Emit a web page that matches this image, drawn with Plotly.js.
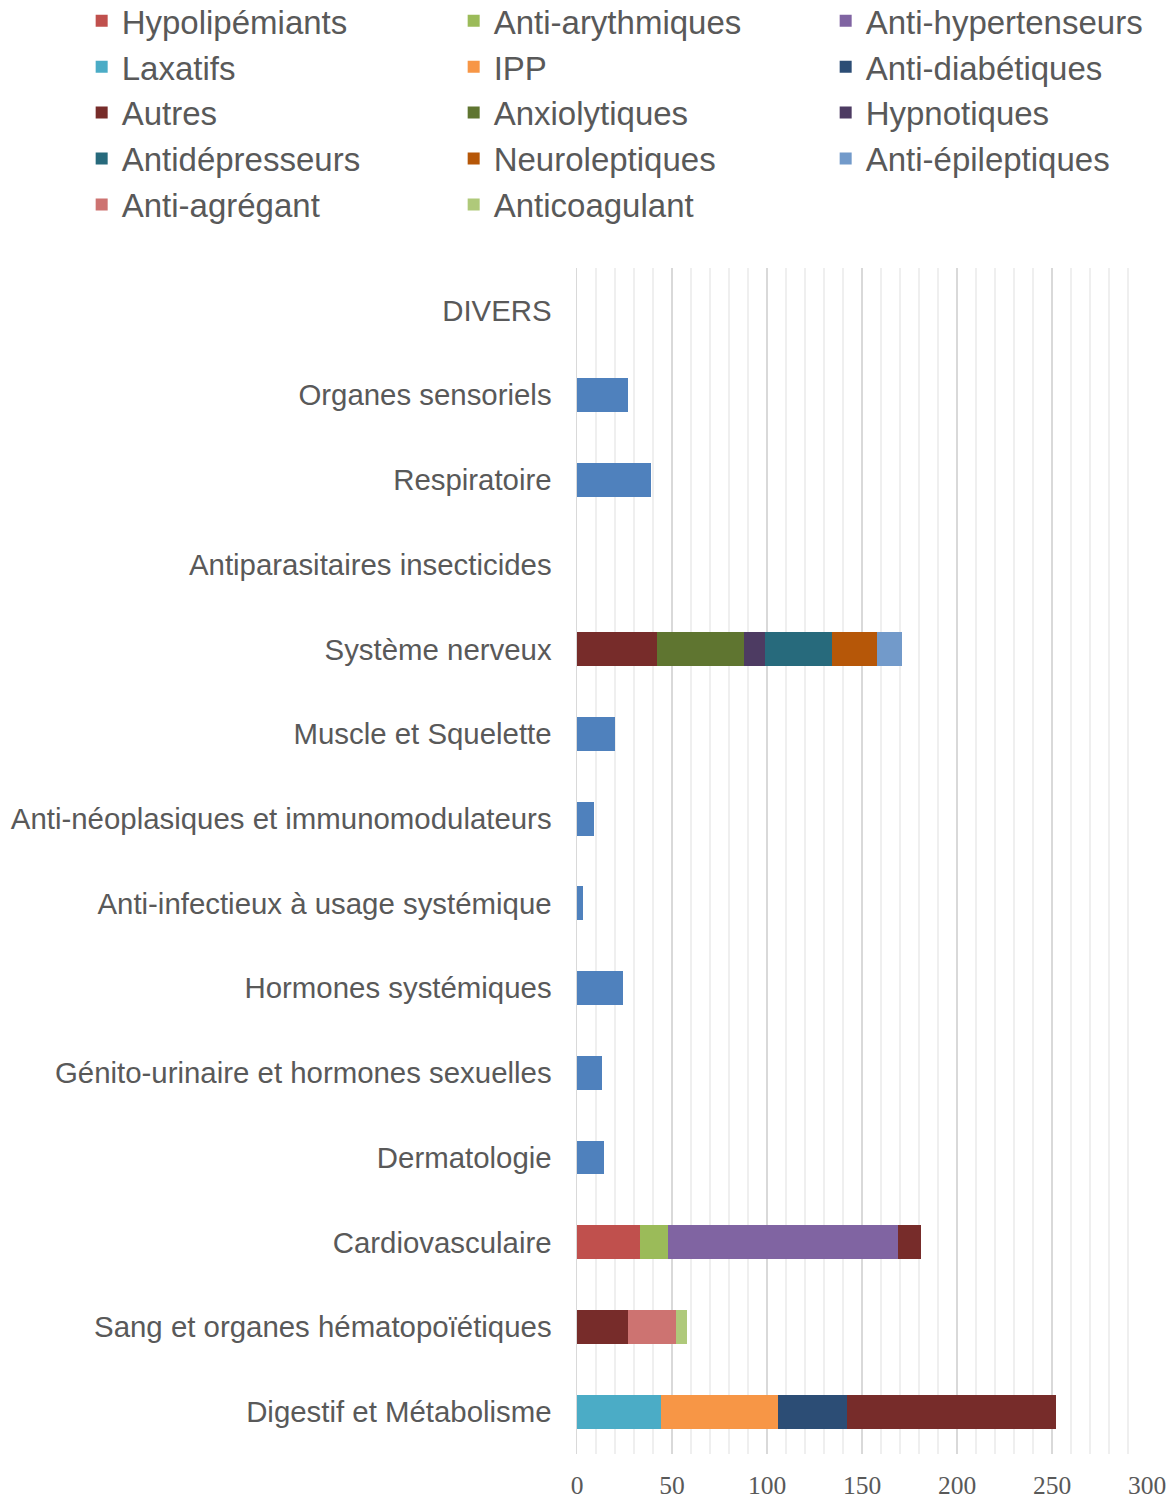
<!DOCTYPE html>
<html>
<head>
<meta charset="utf-8">
<script src="https://cdn.plot.ly/plotly-3.0.1.min.js"></script>
<style>html,body{margin:0;padding:0;background:#fff;}#chart{width:1173px;height:1508px;}</style>
</head>
<body>
<div id="chart"></div>
<script>
// Categories, bottom to top
const categories = [
  "Digestif et Métabolisme",
  "Sang et organes hématopoïétiques",
  "Cardiovasculaire",
  "Dermatologie",
  "Génito-urinaire et hormones sexuelles",
  "Hormones systémiques",
  "Anti-infectieux à usage systémique",
  "Anti-néoplasiques et immunomodulateurs",
  "Muscle et Squelette",
  "Système nerveux",
  "Antiparasitaires insecticides",
  "Respiratoire",
  "Organes sensoriels",
  "DIVERS"
];

// Series values, aligned with categories (null = absent)
const total            = [null, null, null, 14, 13, 24, 3, 9, 20, null, 0, 39, 27, 0];
const laxatifs         = [44, null, null, null, null, null, null, null, null, null, null, null, null, null];
const ipp              = [62, null, null, null, null, null, null, null, null, null, null, null, null, null];
const antiDiabetiques  = [36, null, null, null, null, null, null, null, null, null, null, null, null, null];
const hypolipemiants   = [null, null, 33, null, null, null, null, null, null, null, null, null, null, null];
const antiArythmiques  = [null, null, 15, null, null, null, null, null, null, null, null, null, null, null];
const antiHypertenseurs= [null, null, 121, null, null, null, null, null, null, null, null, null, null, null];
const antiAgregant     = [null, 25, null, null, null, null, null, null, null, null, null, null, null, null];
const anticoagulant    = [null, 6, null, null, null, null, null, null, null, null, null, null, null, null];
const anxiolytiques    = [null, null, null, null, null, null, null, null, null, 46, null, null, null, null];
const hypnotiques      = [null, null, null, null, null, null, null, null, null, 11, null, null, null, null];
const antidepresseurs  = [null, null, null, null, null, null, null, null, null, 35, null, null, null, null];
const neuroleptiques   = [null, null, null, null, null, null, null, null, null, 24, null, null, null, null];
const antiEpileptiques = [null, null, null, null, null, null, null, null, null, 13, null, null, null, null];
const autres           = [110, 27, 12, null, null, null, null, null, null, 42, null, null, null, null];
// categories where "Autres" is drawn first in the stack
const autresFirst = ["Sang et organes hématopoïétiques", "Système nerveux"];

const tickVals = [0, 50, 100, 150, 200, 250, 300];

const autresHead = autres.map((v, i) => autresFirst.includes(categories[i]) ? v : null);
const autresTail = autres.map((v, i) => autresFirst.includes(categories[i]) ? null : v);

function bar(name, values, color, rank, opts) {
  return Object.assign({
    type: 'bar', orientation: 'h', name: name,
    y: categories, x: values,
    marker: {color: color, line: {width: 0}},
    legendrank: rank, hoverinfo: 'x+name'
  }, opts || {});
}

const traces = [
  bar('Total', total, '#4F81BD', 100, {showlegend: false}),
  bar('Laxatifs', laxatifs, '#4BACC6', 4),
  bar('Hypolipémiants', hypolipemiants, '#C0504D', 1),
  bar('Autres', autresHead, '#772C2A', 7, {legendgroup: 'autres'}),
  bar('IPP', ipp, '#F79646', 5),
  bar('Anti-arythmiques', antiArythmiques, '#9BBB59', 2),
  bar('Anti-agrégant', antiAgregant, '#CD7371', 13),
  bar('Anxiolytiques', anxiolytiques, '#5F7530', 8),
  bar('Anti-diabétiques', antiDiabetiques, '#2C4D75', 6),
  bar('Anti-hypertenseurs', antiHypertenseurs, '#8064A2', 3),
  bar('Anticoagulant', anticoagulant, '#AFC97A', 14),
  bar('Hypnotiques', hypnotiques, '#4D3B62', 9),
  bar('Antidépresseurs', antidepresseurs, '#276A7C', 10),
  bar('Neuroleptiques', neuroleptiques, '#B65708', 11),
  bar('Anti-épileptiques', antiEpileptiques, '#729ACA', 12),
  bar('Autres', autresTail, '#772C2A', 7, {legendgroup: 'autres', showlegend: false})
];

const layout = {
  width: 1173, height: 1508,
  margin: {l: 577, r: 26, t: 268, b: 54, autoexpand: false},
  paper_bgcolor: '#ffffff', plot_bgcolor: '#ffffff',
  font: {family: '"Liberation Sans", Arial, sans-serif', color: '#595959'},
  barmode: 'stack', bargap: 0.6,
  showlegend: true,
  legend: {
    orientation: 'h', x: -0.869, xanchor: 'left', y: 1.232, yanchor: 'top',
    entrywidth: 327, entrywidthmode: 'pixels',
    font: {size: 33, color: '#595959', family: '"Liberation Sans", Arial, sans-serif'},
    traceorder: 'normal', bgcolor: 'rgba(0,0,0,0)', itemclick: false
  },
  xaxis: {
    range: [0, 300], tickvals: tickVals, ticktext: tickVals.map(String),
    showgrid: true, gridcolor: '#D9D9D9', gridwidth: 1.5,
    minor: {dtick: 10, showgrid: true, gridcolor: '#EFEFEF', gridwidth: 1.5},
    zeroline: false, showline: false, ticks: '',
    tickfont: {family: '"Liberation Serif", "DejaVu Serif", serif', size: 25.5, color: '#595959'},
    ticklabelstandoff: 13, fixedrange: true
  },
  yaxis: {
    type: 'category', categoryorder: 'array', categoryarray: categories,
    showgrid: false, zeroline: false,
    showline: true, linecolor: '#D9D9D9', linewidth: 1.5,
    ticks: '', ticklabelstandoff: 18,
    tickfont: {size: 29.4, color: '#595959', family: '"Liberation Sans", Arial, sans-serif'},
    fixedrange: true
  }
};

Plotly.newPlot('chart', traces, layout, {displayModeBar: false, staticPlot: true});
</script>
</body>
</html>
